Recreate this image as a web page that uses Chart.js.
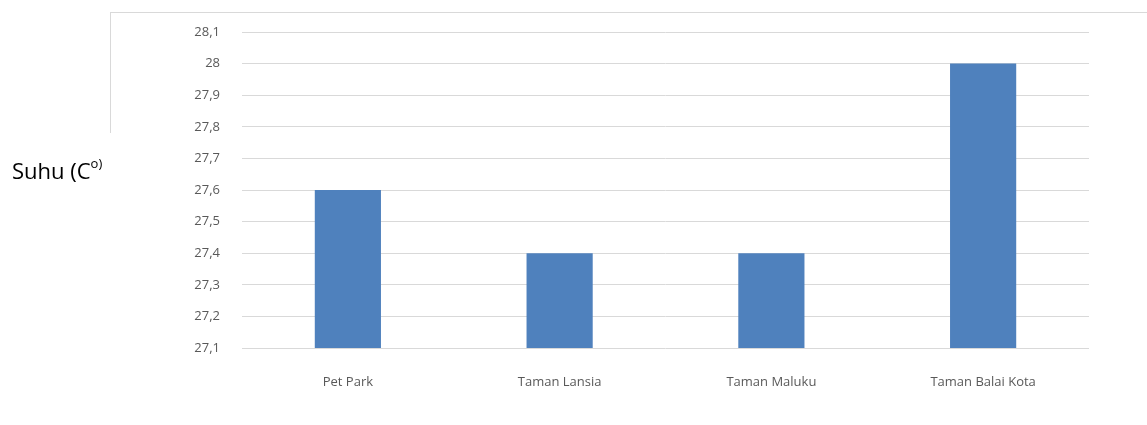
<!DOCTYPE html>
<html>
<head>
<meta charset="utf-8">
<script src="https://cdn.jsdelivr.net/npm/chart.js@4/dist/chart.umd.min.js"></script>
<style>
  html,body{margin:0;padding:0;background:#fff;}
  #wrap{position:relative;width:1147px;height:425px;}
  #frame{position:absolute;left:110px;top:12px;width:1037px;height:120px;border-left:1px solid #d9d9d9;border-top:1px solid #d9d9d9;}
  #ytitle{position:absolute;left:12px;top:159px;font-family:"Open Sans","Liberation Sans",sans-serif;font-size:22px;color:#000;line-height:1;}
  #ytitle sup{font-size:13px;position:relative;top:-3px;}
  canvas{position:absolute;left:0;top:0;}
</style>
</head>
<body>
<div id="wrap">
  <div id="frame"></div>
  <canvas id="c" width="1147" height="425"></canvas>
  <div id="ytitle">Suhu (C<sup>o)</sup></div>
</div>
<script>
// ==== data ====
const categories = ['Pet Park', 'Taman Lansia', 'Taman Maluku', 'Taman Balai Kota'];
const suhu = [27.6, 27.4, 27.4, 28.0];
const yMin = 27.1, yMax = 28.1, yStep = 0.1;

const fmt = v => String(Number(v.toFixed(1))).replace('.', ',');

const ctx = document.getElementById('c').getContext('2d');
new Chart(ctx, {
  type: 'bar',
  data: {
    labels: categories,
    datasets: [{
      label: 'Suhu',
      data: suhu,
      backgroundColor: '#4f81bd',
      borderWidth: 0,
      barPercentage: 0.625,
      categoryPercentage: 0.5
    }]
  },
  options: {
    responsive: false,
    animation: false,
    layout: { padding: { left: 0, right: 58, top: 32, bottom: 0 } },
    plugins: { legend: { display: false }, tooltip: { enabled: false } },
    scales: {
      x: {
        grid: { display: false },
        border: { display: false },
        ticks: { color: '#595959', font: { family: '"Liberation Sans Narrow","Open Sans",sans-serif', size: 13 }, padding: 18, maxRotation: 0 },
        afterFit: s => { s.height = 77; }
      },
      y: {
        min: yMin, max: yMax,
        grid: { color: '#d9d9d9', drawTicks: false },
        border: { display: false },
        ticks: {
          stepSize: yStep,
          color: '#595959',
          font: { family: '"Open Sans","Liberation Sans",sans-serif', size: 13 },
          padding: 22,
          callback: v => fmt(v)
        },
        afterFit: s => { s.width = 242; }
      }
    }
  }
});
</script>
</body>
</html>
